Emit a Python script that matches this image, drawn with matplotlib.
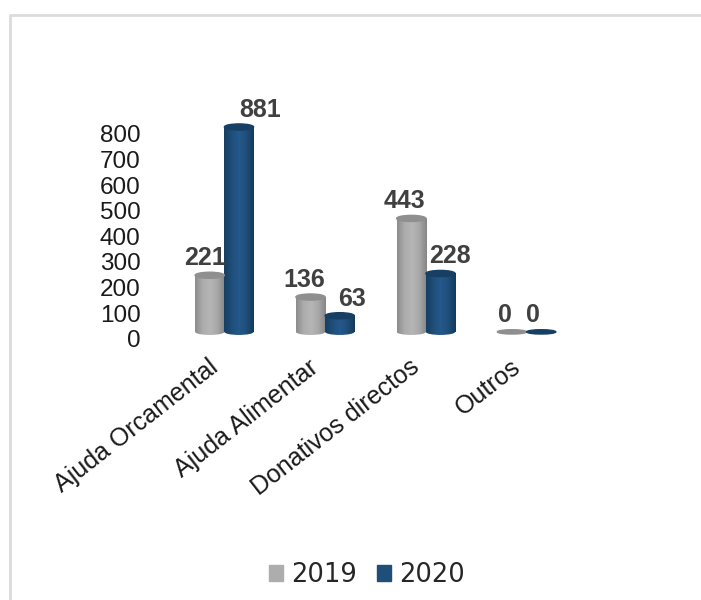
import numpy as np
import matplotlib.pyplot as plt
from matplotlib.lines import Line2D
from matplotlib.patches import Ellipse, Rectangle
from matplotlib.colors import LinearSegmentedColormap
from matplotlib.transforms import ScaledTranslation

categories = ['Ajuda Orcamental', 'Ajuda Alimentar', 'Donativos directos', 'Outros']
series_names = ['2019', '2020']
values_2019 = [221, 136, 443, 0]
values_2020 = [881, 63, 228, 0]
yticks = [0, 100, 200, 300, 400, 500, 600, 700, 800]

W, H = 701, 600
fig = plt.figure(figsize=(W / 100, H / 100), dpi=100)
plt.rcParams['font.family'] = ['Liberation Sans', 'DejaVu Sans']

# outer chart border, only top and left are visible in the picture
fig.add_artist(Line2D([10 / W, 10 / W, 1], [0, 1 - 15 / H, 1 - 15 / H], color='#dcdcdc', lw=2,
                      transform=fig.transFigure))

# axes runs a bit below zero so the round bottom of the cylinders is not cut
y_floor = -20
ax = fig.add_axes([174 / W, 1 - 337 / H, 403 / W, 210 / H])
for s in ax.spines.values():
    s.set_visible(False)

gray_cmap = LinearSegmentedColormap.from_list('g', ['#8c8c8c', '#acacac', '#b6b6b6', '#a8a8a8', '#868686'])
blue_cmap = LinearSegmentedColormap.from_list('b', ['#163f63', '#1f4e79', '#25598c', '#1f4e79', '#143a5c'])
grad = np.linspace(0, 1, 64).reshape(1, -1)
bar_w = 0.29
ell_h = 24  # data units, about 6 px


def cylinder(x, v, cmap, top_color):
    top = min(v, 800)
    if top > 0:
        # bottom cap first, then the gradient body over it
        bottom = Ellipse((x, 0), bar_w, ell_h, transform=ax.transData)
        body = Rectangle((x - bar_w / 2, 0), bar_w, top, transform=ax.transData)
        im = ax.imshow(grad, cmap=cmap, aspect='auto', zorder=2,
                       extent=[x - bar_w / 2, x + bar_w / 2, 0, top])
        im.set_clip_path(body)
        im2 = ax.imshow(grad, cmap=cmap, aspect='auto', zorder=1.9,
                        extent=[x - bar_w / 2, x + bar_w / 2, -ell_h / 2, ell_h / 2])
        im2.set_clip_path(bottom)
    h = ell_h if top > 0 else ell_h * 0.7
    ax.add_patch(Ellipse((x, top), bar_w, h, color=top_color, zorder=3, clip_on=False))


xs = np.arange(len(categories))
# pixel nudges of the value labels from the bar top
label_dx = [[-5, -6, -7, -7], [21, 12, 9, -8]]
for j, vals in enumerate([values_2019, values_2020]):
    cmap = gray_cmap if j == 0 else blue_cmap
    top_c = '#8f8f8f' if j == 0 else '#163f63'
    for i, v in enumerate(vals):
        x = xs[i] + (-0.145 if j == 0 else 0.145)
        cylinder(x, v, cmap, top_c)
        ax.annotate(str(v), (x, min(v, 800)), xytext=(label_dx[j][i], 5), textcoords='offset pixels',
                    ha='center', va='bottom', fontsize=18, fontweight='bold', color='#404040',
                    annotation_clip=False, zorder=5)

ax.set_xlim(-0.5, 3.5)
ax.set_ylim(y_floor, 800)
ax.set_yticks(yticks)
ax.set_xticks(xs)
ax.set_xticklabels(categories, rotation=38, ha='right', rotation_mode='anchor',
                   fontsize=18, color='#1a1a1a')
ax.tick_params(length=0)
ax.tick_params(axis='y', labelsize=17.5, labelcolor='#1a1a1a', pad=24)
ax.tick_params(axis='x', pad=13)
yshift = ScaledTranslation(0, -5 / 72, fig.dpi_scale_trans)
for t in ax.get_yticklabels():
    t.set_transform(t.get_transform() + yshift)
xshift = ScaledTranslation(-12 / 72, 0, fig.dpi_scale_trans)
for t in ax.get_xticklabels():
    t.set_transform(t.get_transform() + xshift)

handles = [Rectangle((0, 0), 1, 1, color='#adadad'), Rectangle((0, 0), 1, 1, color='#1f4e79')]
fig.legend(handles, series_names, loc='center', bbox_to_anchor=(367 / W, 1 - 575 / H), ncol=2,
           frameon=False, prop={'family': 'DejaVu Sans', 'size': 18.5}, handlelength=0.55, handleheight=0.55,
           handletextpad=0.3, columnspacing=0.8, labelcolor='#262626')

fig.savefig('out.png', dpi=100)
